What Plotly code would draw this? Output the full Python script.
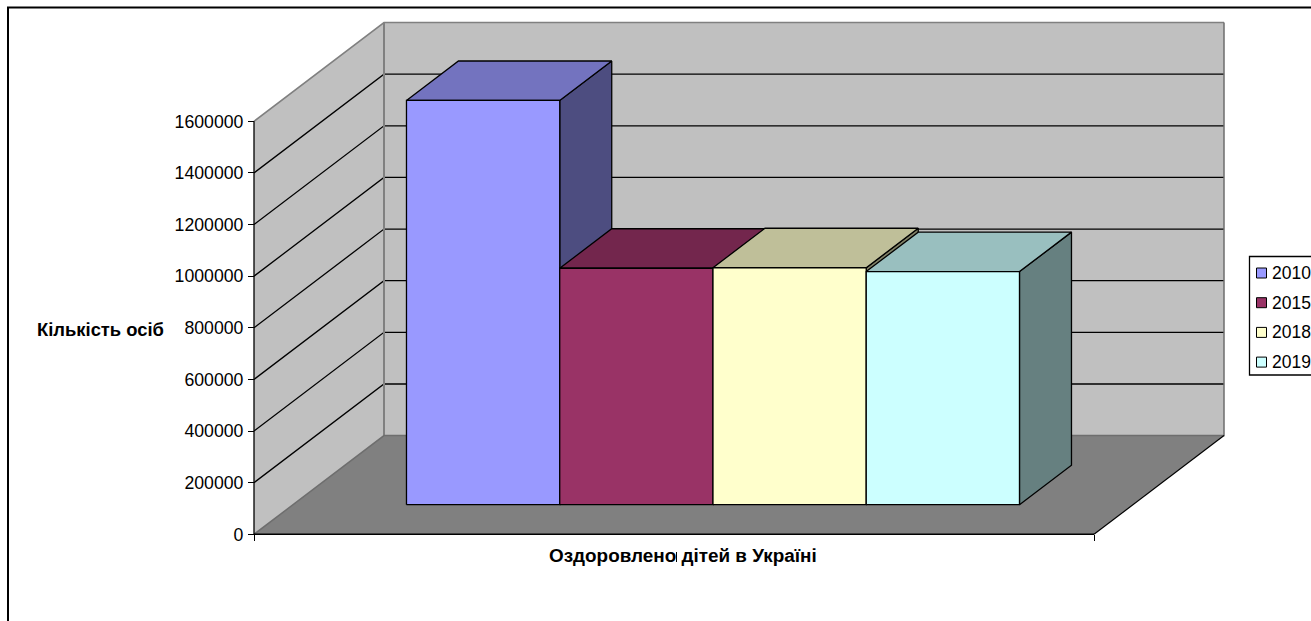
import plotly.graph_objects as go

W, H = 1311, 621
FONT = "Liberation Sans"

# Data
years = ["2010", "2015", "2018", "2019"]
values = [1566000, 916000, 918000, 903000]
front_colors = ["#9999FF", "#993366", "#FFFFCC", "#CCFFFF"]
top_colors = ["#7373BF", "#73264D", "#BFBF99", "#99BFBF"]
side_colors = ["#4D4D80", "#4D1A33", "#808066", "#668080"]
y_ticks = [0, 200000, 400000, 600000, 800000, 1000000, 1200000, 1400000, 1600000]
y_title = "Кількість осіб"
x_title = "Оздоровлено дітей в Україні"

# Chart geometry in axis units (x: share of floor width, y: value)
PX_PER_X = 840.0
PX_PER_VAL = 413.0 / 1600000
X0_PX, Y0_PX = 254.0, 534.3
WALL_TOP = 1600000
DEPTH_DX = 130.0 / PX_PER_X
DEPTH_DY = 98.7 / PX_PER_VAL
BAR_START, BAR_WIDTH = 0.1351, 0.18244
BAR_D0, BAR_D1 = 0.3, 0.7


def proj(x, v, d):
    return x + d * DEPTH_DX, v + d * DEPTH_DY


fig = go.Figure()


def poly(points, fill=None, line=None, lw=1.0, name=None):
    xs, ys = zip(*[proj(*p) for p in points])
    fig.add_trace(go.Scatter(
        x=list(xs), y=list(ys), mode="lines",
        fill="toself" if fill else None, fillcolor=fill,
        line=dict(color=line or "rgba(0,0,0,0)", width=lw),
        hoverinfo="skip", showlegend=False, name=name,
    ))


# Walls and floor
poly([(0, 0, 0), (0, 0, 1), (0, WALL_TOP, 1), (0, WALL_TOP, 0), (0, 0, 0)], "#C0C0C0")
poly([(0, 0, 1), (1, 0, 1), (1, WALL_TOP, 1), (0, WALL_TOP, 1), (0, 0, 1)], "#C0C0C0")
poly([(0, 0, 0), (1, 0, 0), (1, 0, 1), (0, 0, 1), (0, 0, 0)], "#808080")

# Gridlines
for t in y_ticks[1:]:
    is_top = t == y_ticks[-1]
    poly([(0, t, 0), (0, t, 1), (1, t, 1)], line="#808080" if is_top else "#000000",
         lw=1.5 if is_top else 1.3)

# Wall and floor edges
poly([(0, 0, 1), (0, WALL_TOP, 1)], line="#808080", lw=2)
poly([(1, WALL_TOP, 1), (1, 0, 1), (0, 0, 1), (0, 0, 0)], line="#6E6E6E", lw=1.5)
poly([(1, 0, 1), (1, 0, 0)], line="#000000", lw=1.2)
poly([(0, 0, 0), (1, 0, 0)], line="#000000", lw=1.5)
poly([(0, 0, 0), (0, WALL_TOP, 0)], line="#000000", lw=1.3)

# Bars, left to right
for i, (yr, v) in enumerate(zip(years, values)):
    a = BAR_START + i * BAR_WIDTH
    b = a + BAR_WIDTH
    poly([(b, 0, BAR_D0), (b, 0, BAR_D1), (b, v, BAR_D1), (b, v, BAR_D0), (b, 0, BAR_D0)],
         side_colors[i], "#000000", 1.3)
    poly([(a, v, BAR_D0), (b, v, BAR_D0), (b, v, BAR_D1), (a, v, BAR_D1), (a, v, BAR_D0)],
         top_colors[i], "#000000", 1.3)
    poly([(a, 0, BAR_D0), (b, 0, BAR_D0), (b, v, BAR_D0), (a, v, BAR_D0), (a, 0, BAR_D0)],
         front_colors[i], "#000000", 1.3, name=yr)

shapes = [
    # Outer frame
    dict(type="line", xref="paper", yref="paper", x0=8 / W, x1=8 / W, y0=0, y1=1 - 7.5 / H,
         line=dict(color="black", width=2)),
    dict(type="line", xref="paper", yref="paper", x0=7 / W, x1=1, y0=1 - 7.5 / H, y1=1 - 7.5 / H,
         line=dict(color="black", width=2)),
    # Legend box
    dict(type="rect", xref="paper", yref="paper", x0=1249.5 / W, x1=1.01,
         y0=1 - 375 / H, y1=1 - 256.5 / H, line=dict(color="black", width=1.3), fillcolor="white"),
    # Small stroke in the axis title
    dict(type="line", xref="paper", yref="paper", x0=676.5 / W, x1=676.5 / W,
         y0=1 - 562 / H, y1=1 - 552 / H, line=dict(color="black", width=1)),
]
annotations = [
    dict(text=f"<b>{x_title}</b>", xref="paper", yref="paper", x=683 / W, y=1 - 555 / H, showarrow=False,
         font=dict(family=FONT, size=18.9, color="black"), xanchor="center", yanchor="middle"),
    dict(text=f"<b>{y_title}</b>", xref="paper", yref="paper", x=100.5 / W, y=1 - 329 / H, showarrow=False,
         font=dict(family=FONT, size=18.4, color="black"), xanchor="center", yanchor="middle"),
]
for i, yr in enumerate(years):
    cy = 273 + i * 29.7
    shapes.append(dict(type="rect", xref="paper", yref="paper",
                       x0=1256.5 / W, x1=1266.5 / W, y0=1 - (cy + 5) / H, y1=1 - (cy - 5) / H,
                       fillcolor=front_colors[i], line=dict(color="black", width=1)))
    annotations.append(dict(text=yr, xref="paper", yref="paper", x=1270 / W, y=1 - cy / H,
                            showarrow=False, xanchor="left", yanchor="middle",
                            font=dict(family=FONT, size=17.5, color="black")))

fig.update_layout(
    width=W, height=H, margin=dict(l=0, r=0, t=0, b=0),
    paper_bgcolor="white", plot_bgcolor="white", showlegend=False,
    font=dict(family=FONT, size=17.7, color="black"),
    shapes=shapes, annotations=annotations,
    xaxis=dict(range=[-X0_PX / PX_PER_X, (W - X0_PX) / PX_PER_X], domain=[0, 1],
               tickvals=[0, 1], ticktext=["", ""], ticks="outside", ticklen=6, tickcolor="black",
               showgrid=False, zeroline=False, showline=False,
               anchor="free", position=(H - Y0_PX) / H),
    yaxis=dict(range=[-(H - Y0_PX) / PX_PER_VAL, Y0_PX / PX_PER_VAL], domain=[0, 1],
               tickvals=y_ticks, tickformat="d", ticks="outside", ticklen=6, tickcolor="black",
               ticklabelstandoff=1,
               showgrid=False, zeroline=False, showline=False,
               anchor="free", position=X0_PX / W),
)

fig.write_html("out.html", config={"displayModeBar": False},
               post_script="document.body.style.margin='0';document.body.style.overflow='hidden';")
